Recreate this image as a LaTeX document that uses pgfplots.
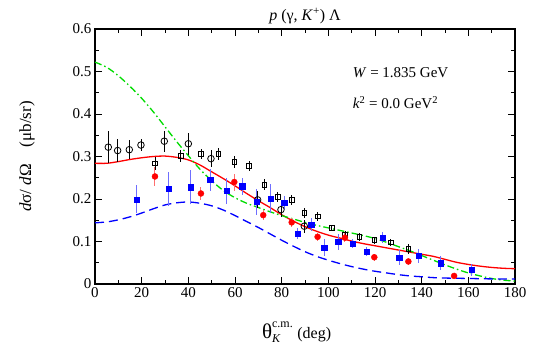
\documentclass[border=0pt]{standalone}
\usepackage{fontspec}
\setmainfont{Liberation Serif}
\usepackage{pgfplots}
\pgfplotsset{compat=1.18}
\definecolor{cgreen}{RGB}{0,220,0}
\definecolor{ebred}{RGB}{255,110,110}
\definecolor{ebblue}{RGB}{110,110,255}
\begin{document}
\begin{tikzpicture}[font=\fontsize{15}{18}\selectfont]
\begin{axis}[
  scale only axis,
  width=420pt, height=255pt,
  xmin=0, xmax=180, ymin=0, ymax=0.6,
  xtick={0,20,...,180}, ytick={0,0.1,...,0.6},
  minor x tick num=1, minor y tick num=1,
  tick align=inside,
  major tick length=7pt, minor tick length=4pt,
  axis line style={line width=1.2pt},
  every tick/.style={black, line width=1pt},
  /pgf/number format/assume math mode=true,
  yticklabel style={/pgf/number format/.cd, fixed, precision=1},
  xlabel={$\mbox{\fontsize{21}{21}\selectfont θ}_{\mbox{\fontsize{12}{12}\selectfont\textit{K}}}^{\mbox{\fontsize{12}{12}\selectfont c.m.}}$ (deg)},
  ylabel={\textit{d}σ/ \textit{d}Ω~~~ (μb/sr)},
  every axis x label/.style={at={(axis description cs:0.48,-0.19)}, anchor=center, font=\fontsize{16}{19}\selectfont},
  every axis y label/.style={at={(axis description cs:-0.162,0.5)}, rotate=90, anchor=center, font=\fontsize{17}{20}\selectfont},
  title={\textit{p} (γ, \textit{K}\textsuperscript{+}) Λ},
  every axis title/.style={at={(axis description cs:0.5,1.05)}, anchor=center, font=\fontsize{16}{18}\selectfont},
  clip=true,
]
% model curves
\addplot[red, line width=1.3pt, smooth] coordinates {
(0,0.284) (5,0.284) (10,0.288) (15,0.293) (20,0.297) (25,0.300) (30,0.301)
(35,0.298) (40,0.292) (45,0.280) (50,0.264) (55,0.248) (60,0.231) (65,0.213)
(70,0.196) (75,0.180) (80,0.163) (85,0.148) (90,0.135) (95,0.124) (100,0.115)
(105,0.108) (110,0.101) (115,0.095) (120,0.090) (125,0.085) (130,0.080)
(135,0.075) (140,0.070) (145,0.065) (150,0.058) (155,0.051) (160,0.046)
(165,0.042) (170,0.039) (175,0.037) (180,0.036)};
\addplot[cgreen, line width=1.3pt, smooth, dash pattern=on 7pt off 3pt on 1.5pt off 3pt] coordinates {
(0,0.522) (5,0.510) (10,0.490) (15,0.465) (20,0.437) (25,0.405) (30,0.370)
(35,0.335) (40,0.302) (45,0.270) (50,0.243) (55,0.220) (60,0.203) (65,0.190)
(70,0.180) (75,0.170) (80,0.161) (85,0.153) (90,0.145) (95,0.138) (100,0.132)
(105,0.126) (110,0.120) (115,0.114) (120,0.107) (125,0.098) (130,0.088)
(135,0.078) (140,0.067) (145,0.056) (150,0.045) (155,0.035) (160,0.026)
(165,0.019) (170,0.013) (175,0.009) (180,0.007)};
\addplot[blue, line width=1.3pt, smooth, dash pattern=on 9pt off 5pt] coordinates {
(0,0.144) (5,0.146) (10,0.151) (15,0.158) (20,0.167) (25,0.177) (30,0.186)
(35,0.191) (40,0.193) (45,0.190) (50,0.184) (55,0.174) (60,0.161) (65,0.147)
(70,0.133) (75,0.118) (80,0.103) (85,0.089) (90,0.076) (95,0.065) (100,0.056)
(105,0.048) (110,0.041) (115,0.035) (120,0.030) (125,0.026) (130,0.022)
(135,0.019) (140,0.017) (145,0.015) (150,0.014) (160,0.013) (170,0.012)
(180,0.012)};
% open circles
\addplot[only marks, mark=o, mark size=3.3pt, black, line width=0.8pt,
  error bars/.cd, y dir=both, y explicit, error mark=none,
  error bar style={black, line width=0.8pt}] coordinates {
(5.7,0.322) +- (0,0.037)
(9.7,0.314) +- (0,0.027)
(14.7,0.316) +- (0,0.022)
(19.7,0.327) +- (0,0.015)
(29.7,0.336) +- (0,0.025)
(40.0,0.330) +- (0,0.026)
(49.7,0.295) +- (0,0.020)
(69.7,0.198) +- (0,0.020)
(79.7,0.175) +- (0,0.018)
(89.7,0.136) +- (0,0.015)};
% open squares
\addplot[only marks, mark=square, mark size=2.4pt, black, line width=0.8pt,
  error bars/.cd, y dir=both, y explicit, error mark=none,
  error bar style={black, line width=0.8pt}] coordinates {
(25.7,0.284) +- (0,0.015)
(36.7,0.302) +- (0,0.014)
(45.4,0.306) +- (0,0.012)
(52.9,0.306) +- (0,0.014)
(59.7,0.287) +- (0,0.014)
(66.1,0.277) +- (0,0.012)
(72.6,0.234) +- (0,0.012)
(78.3,0.205) +- (0,0.012)
(84.3,0.197) +- (0,0.012)
(89.7,0.167) +- (0,0.012)
(95.4,0.159) +- (0,0.010)
(101.4,0.132) +- (0,0.008)
(107.1,0.116) +- (0,0.008)
(113.3,0.111) +- (0,0.010)
(119.7,0.103) +- (0,0.008)
(126.7,0.098) +- (0,0.008)
(134.3,0.082) +- (0,0.012)};
% red filled circles
\addplot[only marks, mark=*, mark size=3pt, red,
  error bars/.cd, y dir=both, y explicit, error mark=none,
  error bar style={ebred, line width=1pt}] coordinates {
(25.7,0.253) +- (0,0.023)
(45.4,0.213) +- (0,0.015)
(59.7,0.240) +- (0,0.020)
(72.1,0.162) +- (0,0.012)
(84.3,0.145) +- (0,0.010)
(95.4,0.111) +- (0,0.010)
(107.1,0.109) +- (0,0.010)
(119.7,0.063) +- (0,0.008)
(134.3,0.053) +- (0,0.008)
(153.9,0.019) +- (0,0.005)};
% blue filled squares
\addplot[only marks, mark=square*, mark size=2.7pt, blue,
  error bars/.cd, y dir=both, y explicit, error mark=none,
  error bar style={ebblue, line width=1pt}] coordinates {
(17.9,0.199) +- (0,0.033)
(31.7,0.224) +- (0,0.040)
(41.1,0.228) +- (0,0.040)
(49.3,0.245) +- (0,0.025)
(56.4,0.219) +- (0,0.030)
(63.1,0.230) +- (0,0.020)
(69.4,0.193) +- (0,0.030)
(75.4,0.201) +- (0,0.035)
(81.1,0.191) +- (0,0.015)
(86.9,0.119) +- (0,0.012)
(92.6,0.140) +- (0,0.015)
(98.3,0.086) +- (0,0.020)
(104.3,0.099) +- (0,0.018)
(110.4,0.095) +- (0,0.010)
(116.4,0.076) +- (0,0.010)
(123.3,0.109) +- (0,0.013)
(130.3,0.062) +- (0,0.018)
(138.6,0.066) +- (0,0.016)
(148.1,0.049) +- (0,0.017)
(161.4,0.033) +- (0,0.013)};
\node[anchor=west, font=\fontsize{15}{18}\selectfont] at (axis cs:109,0.498) {\textit{W} = 1.835 GeV};
\node[anchor=west, font=\fontsize{15}{18}\selectfont] at (axis cs:109,0.426) {\textit{k}\textsuperscript{2} = 0.0 GeV\textsuperscript{2}};
\end{axis}
\path (current axis.south west) ++(-95pt,-64pt) rectangle ++(545pt,348pt);
\end{tikzpicture}
\end{document}
